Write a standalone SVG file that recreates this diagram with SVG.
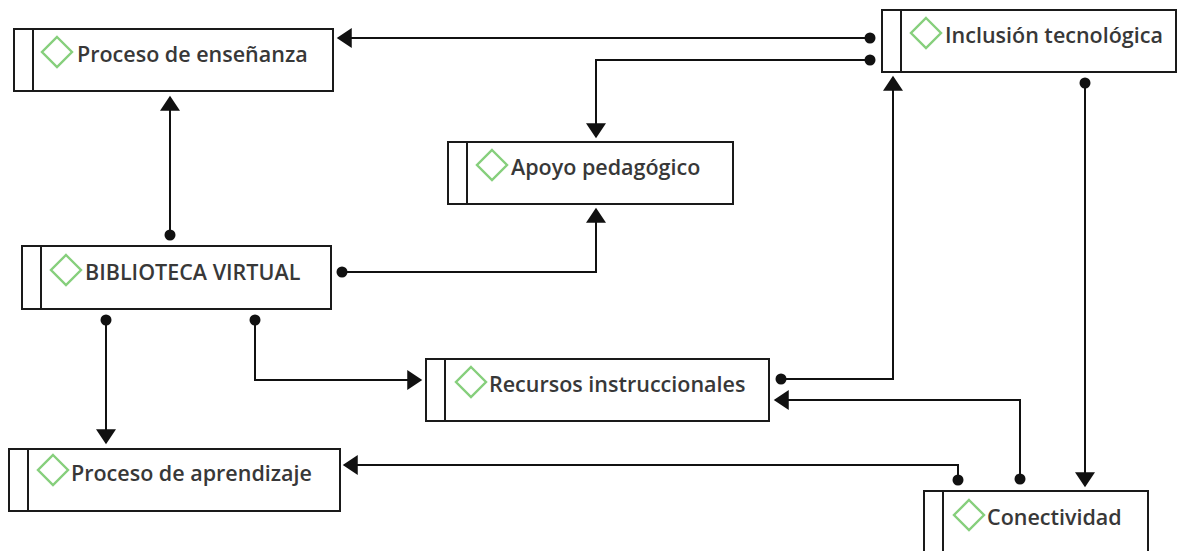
<svg xmlns="http://www.w3.org/2000/svg" width="1185" height="551" viewBox="0 0 1185 551">
<style>
.box{fill:#fff;stroke:#1a1a1a;stroke-width:2}
.div{stroke:#1a1a1a;stroke-width:2}
.dia{fill:none;stroke:#86cf7c;stroke-width:2.4}
.lbl{font-family:"Open Sans","Noto Sans",sans-serif;font-size:21.5px;font-weight:600;fill:#383838}
.con{fill:none;stroke:#111;stroke-width:2;marker-start:url(#dot);marker-end:url(#arr)}
</style>
<defs>
<marker id="arr" markerUnits="userSpaceOnUse" markerWidth="20" markerHeight="20" viewBox="0 0 12 16" refX="11" refY="8" orient="auto">
<path d="M0,0 L12,8 L0,16 z" fill="#111"/>
</marker>
<marker id="dot" markerUnits="userSpaceOnUse" markerWidth="14" markerHeight="14" viewBox="0 0 14 14" refX="7" refY="7">
<circle cx="7" cy="7" r="5.5" fill="#111"/>
</marker>
</defs>
<rect width="1185" height="551" fill="#fff"/>
<g id="connectors">
<path class="con" d="M870,38 H338"/>
<path class="con" d="M870,60 H596 V137"/>
<path class="con" d="M781,379 H893 V77"/>
<path class="con" d="M1085,83 V486"/>
<path class="con" d="M1020,479 V400 H775"/>
<path class="con" d="M958,480 V465 H344"/>
<path class="con" d="M170,235 V97"/>
<path class="con" d="M342,272 H596 V209"/>
<path class="con" d="M106,320 V443"/>
<path class="con" d="M255,320 V380 H421"/>
</g>
<g id="n-ensenanza">
<rect class="box" x="14" y="29" width="319" height="62"/>
<line class="div" x1="33" y1="29" x2="33" y2="91"/>
<path class="dia" d="M57,37 L72,52 L57,67 L42,52 z"/>
<text class="lbl" x="77" y="62">Proceso de enseñanza</text>
</g>
<g id="n-inclusion">
<rect class="box" x="882" y="10" width="294" height="62"/>
<line class="div" x1="901" y1="10" x2="901" y2="72"/>
<path class="dia" d="M926,18 L941,33 L926,48 L911,33 z"/>
<text class="lbl" x="945" y="43">Inclusión tecnológica</text>
</g>
<g id="n-apoyo">
<rect class="box" x="448" y="142" width="285" height="62"/>
<line class="div" x1="467" y1="142" x2="467" y2="204"/>
<path class="dia" d="M492,150 L507,165 L492,180 L477,165 z"/>
<text class="lbl" x="511" y="175">Apoyo pedagógico</text>
</g>
<g id="n-biblioteca">
<rect class="box" x="22" y="246" width="309" height="63"/>
<line class="div" x1="41" y1="246" x2="41" y2="309"/>
<path class="dia" d="M66,255 L81,270 L66,285 L51,270 z"/>
<text class="lbl" x="85" y="280">BIBLIOTECA VIRTUAL</text>
</g>
<g id="n-recursos">
<rect class="box" x="426" y="359" width="343" height="62"/>
<line class="div" x1="445" y1="359" x2="445" y2="421"/>
<path class="dia" d="M471,367 L486,382 L471,397 L456,382 z"/>
<text class="lbl" x="489" y="392">Recursos instruccionales</text>
</g>
<g id="n-aprendizaje">
<rect class="box" x="9" y="449" width="331" height="62"/>
<line class="div" x1="28" y1="449" x2="28" y2="511"/>
<path class="dia" d="M53,455 L68,470 L53,485 L38,470 z"/>
<text class="lbl" x="71" y="481">Proceso de aprendizaje</text>
</g>
<g id="n-conectividad">
<rect class="box" x="924" y="491" width="224" height="70"/>
<line class="div" x1="943" y1="491" x2="943" y2="561"/>
<path class="dia" d="M969,500 L984,515 L969,530 L954,515 z"/>
<text class="lbl" x="987" y="525">Conectividad</text>
</g>
</svg>
